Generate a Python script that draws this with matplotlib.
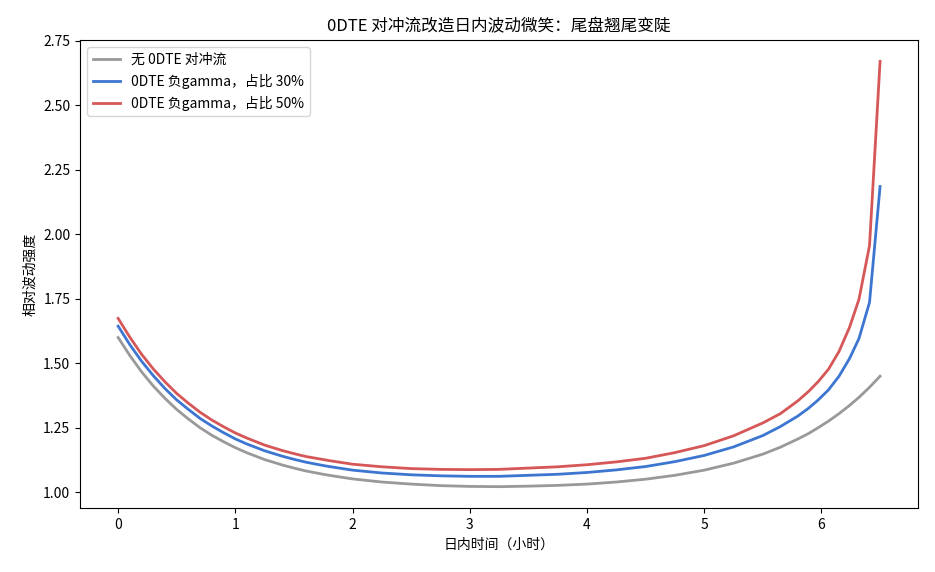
import matplotlib
matplotlib.use('Agg')
import matplotlib.pyplot as plt

plt.rcParams['font.family'] = ['Noto Sans CJK SC', 'DejaVu Sans']
plt.rcParams['axes.unicode_minus'] = False

# 日内时间（小时）
hours = [0, 0.1, 0.2, 0.3, 0.4, 0.5, 0.6, 0.7, 0.8, 0.9, 1.0, 1.1, 1.25, 1.4,
         1.5, 1.6, 1.75, 1.8, 2.0, 2.25, 2.5, 2.75, 3.0, 3.25, 3.5, 3.75, 4.0,
         4.25, 4.5, 4.75, 5.0, 5.25, 5.5, 5.65, 5.8, 5.89, 5.97, 6.06, 6.15,
         6.24, 6.32, 6.41, 6.5]

# 无 0DTE 对冲流
vol_base = [1.600, 1.530, 1.467, 1.412, 1.364, 1.321, 1.284, 1.250, 1.221, 1.196,
            1.173, 1.153, 1.127, 1.106, 1.094, 1.083, 1.070, 1.066, 1.052, 1.040,
            1.032, 1.026, 1.023, 1.022, 1.024, 1.027, 1.032, 1.040, 1.051, 1.066,
            1.086, 1.113, 1.148, 1.175, 1.207, 1.228, 1.250, 1.276, 1.305, 1.337,
            1.368, 1.407, 1.450]

# 0DTE 负gamma 占比 30%
vol_30 = [1.644, 1.572, 1.508, 1.452, 1.402, 1.358, 1.321, 1.286, 1.257, 1.231,
          1.207, 1.187, 1.161, 1.140, 1.128, 1.117, 1.104, 1.100, 1.086, 1.075,
          1.068, 1.064, 1.062, 1.062, 1.066, 1.070, 1.077, 1.087, 1.100, 1.119,
          1.143, 1.176, 1.220, 1.255, 1.296, 1.326, 1.357, 1.397, 1.450, 1.519,
          1.596, 1.736, 2.185]

# 0DTE 负gamma 占比 50%
vol_50 = [1.674, 1.601, 1.535, 1.478, 1.428, 1.383, 1.345, 1.310, 1.280, 1.254,
          1.230, 1.210, 1.183, 1.162, 1.150, 1.139, 1.127, 1.123, 1.109, 1.099,
          1.092, 1.089, 1.088, 1.089, 1.094, 1.099, 1.107, 1.118, 1.132, 1.154,
          1.181, 1.219, 1.269, 1.305, 1.355, 1.391, 1.428, 1.477, 1.546, 1.640,
          1.748, 1.956, 2.670]

labels = ['无 0DTE 对冲流', '0DTE 负gamma，占比 30%', '0DTE 负gamma，占比 50%']
colors = ['#999999', '#3d76d1', '#d65757']

fig = plt.figure(figsize=(9.35, 5.72), dpi=100)
ax = fig.add_axes([0.0856, 0.112, 0.8964, 0.818])

for series, lab, col in zip([vol_base, vol_30, vol_50], labels, colors):
    ax.plot(hours, series, color=col, lw=2, label=lab)

ax.set_title('0DTE 对冲流改造日内波动微笑：尾盘翘尾变陡', fontsize=12)
ax.set_xlabel('日内时间（小时）', fontsize=10)
ax.set_ylabel('相对波动强度', fontsize=10)
ax.tick_params(labelsize=10)
ax.legend(loc='upper left', fontsize=10)

fig.savefig('out.png', dpi=100)
